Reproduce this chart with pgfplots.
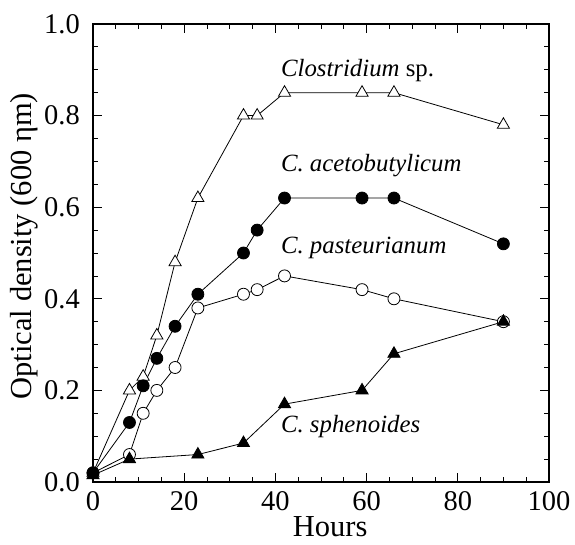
\documentclass[border=0pt]{standalone}
\usepackage{fontspec}
\setmainfont{Liberation Serif}
\usepackage{pgfplots}
\pgfplotsset{compat=1.18}
\begin{document}
\begin{tikzpicture}
\begin{axis}[
 scale only axis, width=456pt, height=458pt,
 xmin=0, xmax=100, ymin=0, ymax=1,
 xtick={0,20,40,60,80,100}, ytick={0,0.2,0.4,0.6,0.8,1.0},
 minor x tick num=3, minor y tick num=3,
 tick align=inside,
 major tick length=9pt, minor tick length=5pt,
 every tick/.style={black, line width=0.8pt},
 axis line style={line width=1.1pt},
 clip=false,
 /pgf/number format/assume math mode=true,
 tick label style={font=\fontsize{28.5}{30}\selectfont},
 yticklabel style={/pgf/number format/fixed, /pgf/number format/fixed zerofill, /pgf/number format/precision=1},
 yticklabel style={inner sep=0pt, xshift=-13pt},
 xticklabel style={inner sep=0pt, yshift=-9pt},
 xlabel={Hours},
 ylabel={Optical density (600 ηm)},
 xlabel style={font=\fontsize{30.5}{32}\selectfont, at={([yshift=-54pt]axis description cs:0.52,0)}, anchor=base, inner sep=0pt},
 ylabel style={font=\fontsize{30.5}{32}\selectfont, at={([xshift=-61pt]axis description cs:0,0.515)}, anchor=base, inner sep=0pt},
]
% Clostridium sp. (open triangles)
\addplot[black, line width=0.8pt, mark=triangle*, mark size=7pt, mark options={fill=white, line width=0.8pt}] coordinates {
(0,0.02) (8,0.2) (11,0.23) (14,0.32) (18,0.48) (23,0.62) (33,0.8) (36,0.8) (42,0.85) (59,0.85) (66,0.85) (90,0.78)};
% C. pasteurianum (open circles)
\addplot[black, line width=0.8pt, mark=*, mark size=6pt, mark options={fill=white, line width=0.8pt}] coordinates {
(0,0.02) (8,0.06) (11,0.15) (14,0.2) (18,0.25) (23,0.38) (33,0.41) (36,0.42) (42,0.45) (59,0.42) (66,0.40) (90,0.35)};
% C. acetobutylicum (filled circles)
\addplot[black, line width=0.8pt, mark=*, mark size=6pt, mark options={fill=black}] coordinates {
(0,0.02) (8,0.13) (11,0.21) (14,0.27) (18,0.34) (23,0.41) (33,0.5) (36,0.55) (42,0.62) (59,0.62) (66,0.62) (90,0.52)};
% C. sphenoides (filled triangles)
\addplot[black, line width=0.8pt, mark=triangle*, mark size=7pt, mark options={fill=black}] coordinates {
(0,0.015) (8,0.05) (23,0.06) (33,0.085) (42,0.17) (59,0.2) (66,0.28) (90,0.35)};
\node[anchor=base west, inner sep=0pt, font=\fontsize{24.8}{26}\selectfont] at (axis cs:41.2,0.886) {\textit{Clostridium} sp.};
\node[anchor=base west, inner sep=0pt, font=\fontsize{24.8}{26}\selectfont] at (axis cs:41.2,0.677) {\textit{C. acetobutylicum}};
\node[anchor=base west, inner sep=0pt, font=\fontsize{24.8}{26}\selectfont] at (axis cs:41.2,0.500) {\textit{C. pasteurianum}};
\node[anchor=base west, inner sep=0pt, font=\fontsize{24.8}{26}\selectfont] at (axis cs:41.2,0.107) {\textit{C. sphenoides}};
\end{axis}
\pgfresetboundingbox
\useasboundingbox (-93pt,-62pt) rectangle (482pt,482pt);
\end{tikzpicture}
\end{document}
